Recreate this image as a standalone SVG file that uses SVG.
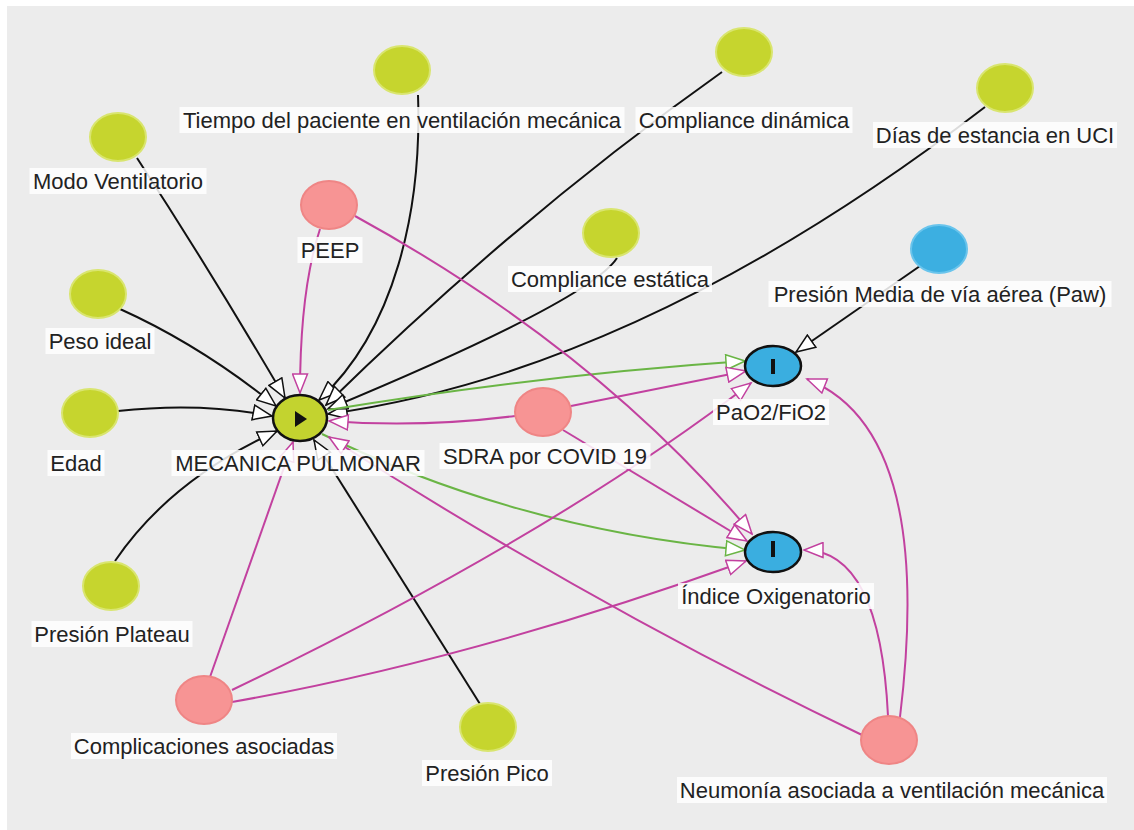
<svg xmlns="http://www.w3.org/2000/svg" width="1134" height="830" viewBox="0 0 1134 830">
<style>
.lbl{font-family:"Liberation Sans",Arial,sans-serif;font-size:22px;fill:#222;text-anchor:middle}
.lb{fill:#fff;fill-opacity:0.85}
.g{fill:#c6d52e;stroke:#d9e56f;stroke-width:2}
.p{fill:#f79494;stroke:#ef8585;stroke-width:2}
.b{fill:#3cafe1;stroke:#69c4ec;stroke-width:2}
.k{stroke:#111;stroke-width:2.5}
.ek{fill:none;stroke:#111;stroke-width:2}
.ep{fill:none;stroke:#c2419f;stroke-width:2}
.eg{fill:none;stroke:#6ab545;stroke-width:2}
</style>
<defs>
<marker id="ak" viewBox="-1 -1 22 17" markerWidth="22" markerHeight="17" refX="19" refY="7.5" orient="auto" markerUnits="userSpaceOnUse"><path d="M0,0 L19,7.5 L0,15 Z" fill="#fff" stroke="#111" stroke-width="1.5"/></marker>
<marker id="ap" viewBox="-1 -1 22 17" markerWidth="22" markerHeight="17" refX="19" refY="7.5" orient="auto" markerUnits="userSpaceOnUse"><path d="M0,0 L19,7.5 L0,15 Z" fill="#fff" stroke="#c2419f" stroke-width="1.5"/></marker>
<marker id="ag" viewBox="-1 -1 22 17" markerWidth="22" markerHeight="17" refX="19" refY="7.5" orient="auto" markerUnits="userSpaceOnUse"><path d="M0,0 L19,7.5 L0,15 Z" fill="#fff" stroke="#6ab545" stroke-width="1.5"/></marker>
</defs>
<rect x="0" y="0" width="1134" height="830" fill="#fff"/>
<rect x="7" y="6" width="1127" height="824" fill="#ececec"/>
<g id="connectors">
<path class="ek" marker-end="url(#ak)" d="M137,158 Q210,270 285,398"/>
<path class="ek" marker-end="url(#ak)" d="M418,95 C422,210 395,330 319,400"/>
<path class="ek" marker-end="url(#ak)" d="M722,72 Q520,215 326,405"/>
<path class="ek" marker-end="url(#ak)" d="M985,107 Q641,371 328,414"/>
<path class="ek" marker-end="url(#ak)" d="M617,258 Q590,300 328,409"/>
<path class="ek" marker-end="url(#ak)" d="M120,309 Q200,345 276,406"/>
<path class="ek" marker-end="url(#ak)" d="M118,411 Q200,402 272,416"/>
<path class="ek" marker-end="url(#ak)" d="M115,561 Q170,480 277,431"/>
<path class="ek" marker-end="url(#ak)" d="M480,704 L314,440"/>
<path class="ek" marker-end="url(#ak)" d="M920,266 L796,352"/>
<path class="eg" marker-end="url(#ag)" d="M328,410 Q540,375 745,361"/>
<path class="eg" marker-end="url(#ag)" d="M322,434 Q520,530 745,550"/>
<path class="ep" marker-end="url(#ap)" d="M320,229 Q300,290 300,393"/>
<path class="ep" marker-end="url(#ap)" d="M355,216 Q599,350 752,534"/>
<path class="ep" marker-end="url(#ap)" d="M515,416 Q420,428 329,421"/>
<path class="ep" marker-end="url(#ap)" d="M571,406 L746,371"/>
<path class="ep" marker-end="url(#ap)" d="M563,430 L747,541"/>
<path class="ep" marker-end="url(#ap)" d="M210,677 L293,442"/>
<path class="ep" marker-end="url(#ap)" d="M232,690 Q549,538 751,383"/>
<path class="ep" marker-end="url(#ap)" d="M232,702 Q470,660 746,561"/>
<path class="ep" marker-end="url(#ap)" d="M862,735 Q600,610 329,437"/>
<path class="ep" marker-end="url(#ap)" d="M900,717 Q935,430 807,379"/>
<path class="ep" marker-end="url(#ap)" d="M888,716 Q880,550 804,550"/>
</g>
<g id="modo"><ellipse class="g" cx="118" cy="137" rx="28" ry="24"/><rect class="lb" x="29.5" y="168" width="177" height="26"/><text class="lbl" x="118" y="189">Modo Ventilatorio</text></g>
<g id="tiempo"><ellipse class="g" cx="402" cy="70" rx="28" ry="24"/><rect class="lb" x="179.5" y="107" width="445" height="26"/><text class="lbl" x="402" y="128">Tiempo del paciente en ventilación mecánica</text></g>
<g id="cdin"><ellipse class="g" cx="744" cy="52" rx="28" ry="24"/><rect class="lb" x="635.5" y="107" width="217" height="26"/><text class="lbl" x="744" y="128">Compliance dinámica</text></g>
<g id="dias"><ellipse class="g" cx="1005" cy="88" rx="28" ry="24"/><rect class="lb" x="873" y="122" width="244" height="26"/><text class="lbl" x="995" y="143">Días de estancia en UCI</text></g>
<g id="peep"><ellipse class="p" cx="329" cy="205" rx="28" ry="24"/><rect class="lb" x="297.5" y="237" width="65" height="26"/><text class="lbl" x="330" y="258">PEEP</text></g>
<g id="cest"><ellipse class="g" cx="611" cy="233" rx="28" ry="24"/><rect class="lb" x="508" y="266" width="204" height="26"/><text class="lbl" x="610" y="287">Compliance estática</text></g>
<g id="paw"><ellipse class="b" cx="939" cy="249" rx="28" ry="24"/><rect class="lb" x="768.5" y="281" width="343" height="26"/><text class="lbl" x="940" y="302">Presión Media de vía aérea (Paw)</text></g>
<g id="peso"><ellipse class="g" cx="98" cy="294" rx="28" ry="24"/><rect class="lb" x="45.5" y="328" width="109" height="26"/><text class="lbl" x="100" y="349">Peso ideal</text></g>
<g id="edad"><ellipse class="g" cx="90" cy="413" rx="28" ry="24"/><rect class="lb" x="47.5" y="450" width="57" height="26"/><text class="lbl" x="76" y="471">Edad</text></g>
<g id="mecanica"><ellipse cx="300" cy="418" rx="27" ry="23" fill="#c3d32f" class="k"/><polygon points="295,411 295,427 307,419" fill="#111"/><rect class="lb" x="171.5" y="450" width="253" height="26"/><text class="lbl" x="298" y="471">MECANICA PULMONAR</text></g>
<g id="sdra"><ellipse class="p" cx="543" cy="412" rx="28" ry="24"/><rect class="lb" x="439.5" y="443" width="211" height="26"/><text class="lbl" x="545" y="464">SDRA por COVID 19</text></g>
<g id="pao2"><ellipse cx="773" cy="366" rx="28" ry="20" fill="#3aaee0" class="k"/><rect x="771" y="359" width="4" height="15" fill="#111"/><rect class="lb" x="713" y="399" width="116" height="26"/><text class="lbl" x="771" y="420">PaO2/FiO2</text></g>
<g id="indice"><ellipse cx="773" cy="552" rx="28" ry="20" fill="#3aaee0" class="k"/><rect x="771" y="541" width="4" height="16" fill="#111"/><rect class="lb" x="678" y="583" width="196" height="26"/><text class="lbl" x="776" y="604">Índice Oxigenatorio</text></g>
<g id="plateau"><ellipse class="g" cx="111" cy="586" rx="28" ry="24"/><rect class="lb" x="31.5" y="621" width="161" height="26"/><text class="lbl" x="112" y="642">Presión Plateau</text></g>
<g id="complicaciones"><ellipse class="p" cx="204" cy="700" rx="28" ry="24"/><rect class="lb" x="71" y="733" width="266" height="26"/><text class="lbl" x="204" y="754">Complicaciones asociadas</text></g>
<g id="pico"><ellipse class="g" cx="488" cy="727" rx="28" ry="24"/><rect class="lb" x="422" y="760" width="130" height="26"/><text class="lbl" x="487" y="781">Presión Pico</text></g>
<g id="neumonia"><ellipse class="p" cx="889" cy="740" rx="28" ry="24"/><rect class="lb" x="677" y="777" width="430" height="26"/><text class="lbl" x="892" y="798">Neumonía asociada a ventilación mecánica</text></g>
</svg>
